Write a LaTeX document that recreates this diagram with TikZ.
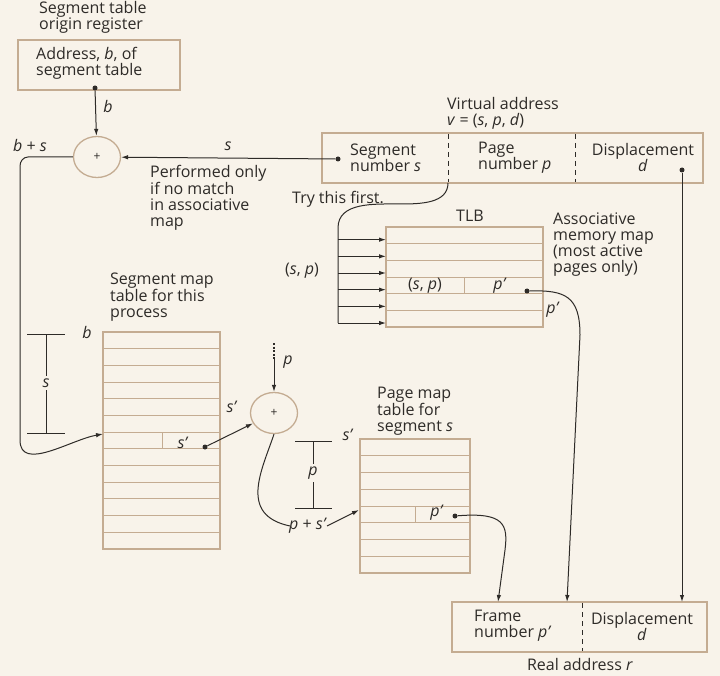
\documentclass[tikz,border=0pt]{standalone}
\usepackage{fontspec}
\setmainfont{Open Sans}
\usetikzlibrary{shapes.geometric,arrows.meta,positioning}
\definecolor{paper}{HTML}{F8F3EA}
\definecolor{tan}{HTML}{C4AC92}
\definecolor{ink}{HTML}{2E2B28}

\tikzset{
  lbl/.style={font=\fontsize{16}{16}\selectfont, text=ink, inner sep=0pt, align=left},
  box/.style={draw=tan, line width=1.3pt, rectangle, inner sep=0pt},
  adder/.style={draw=tan, ellipse, line width=1.3pt, minimum width=47pt, minimum height=41pt, inner sep=0pt, font=\fontsize{12}{12}\selectfont, text=ink},
  arr/.style={draw=ink, line width=1pt, -{Latex[length=7pt,width=4.5pt]}},
  wire/.style={draw=ink, line width=1pt},
  dot/.style={circle, fill=ink, inner sep=0pt, minimum size=5pt},
  row/.style={draw=tan, line width=1pt},
  divider/.style={draw=ink, line width=0.8pt, dash pattern=on 5pt off 4pt},
}

\begin{document}
\begin{tikzpicture}[x=1pt,y=-1pt]
        \fill[paper] (0,0) rectangle (720,676);
        \useasboundingbox (0,0) rectangle (720,676);
        % segment table origin register
        \node[lbl, anchor=west] (regtitle) at (39,17) {Segment table\\origin register};
        \node[box, minimum width=162pt, minimum height=50pt] (reg) at (99,65) {};
        \node[lbl, anchor=west] (regtext) at (36,63) {Address, \textit{b}, of\\segment table};
        \node[dot] (regdot) at (95,88) {};
        \node[adder] (add1) at (97,157) {+};
        \node[lbl] (blbl) at (108,107) {\textit{b}};
        \node[lbl] (bslbl) at (30,146) {\textit{b} + \textit{s}};
        \node[lbl] (slbl) at (228,146) {\textit{s}};
        \node[lbl, anchor=north west] (perf) at (150,165) {Performed only\\if no match\\in associative\\map};
        % virtual address
        \node[lbl, anchor=west] (valbl) at (447,113) {Virtual address\\\textit{v} = (\textit{s}, \textit{p}, \textit{d})};
        \node[box, minimum width=381pt, minimum height=50pt] (va) at (512.5,158) {};
        \draw[divider] (448,134) -- (448,182);
        \draw[divider] (575,134) -- (575,182);
        \coordinate (vadiv) at (448,183);
        \node[lbl, anchor=west] (vaseg) at (350,158) {Segment\\number \textit{s}};
        \node[lbl, anchor=west] (vapage) at (478,158) {Page\\number \textit{p}};
        \node[lbl, align=center] (vadisp) at (643,158) {Displacement\\\textit{d}};
        \node[dot] (segdot) at (338,159) {};
        \node[dot] (dispdot) at (682,170) {};
        % TLB
        \node[lbl, anchor=west] (try) at (292,199) {Try this first.};
        \node[lbl] (tlblbl) at (470,216) {TLB};
        \node[lbl, anchor=west] (assoc) at (553,245) {Associative\\memory map\\(most active\\pages only)};
        \node[box, minimum width=157pt, minimum height=100pt] (tlb) at (464.5,277) {};
        \foreach \i in {1,...,5}
            \draw[row] (386,{227+\i*16.67}) -- (543,{227+\i*16.67});
        \draw[row] (464,277.7) -- (464,294.3);
        \foreach \i in {1,...,6}
            \coordinate (tlb\i) at (386,{229+\i*16.67-6});
        \coordinate (busend) at (338,{229+6*16.67-6});
        \node[lbl] (splbl) at (302,271) {(\textit{s}, \textit{p})};
        \node[lbl] (tlbsp) at (425,286) {(\textit{s}, \textit{p})};
        \node[lbl] (tlbp) at (500,286) {\textit{p'}};
        \node[dot] (tlbdot) at (527,291) {};
        \node[lbl] (tlbplbl) at (553,310) {\textit{p'}};
        % segment map table
        \node[lbl, anchor=west] (segtitle) at (110,297) {Segment map\\table for this\\process};
        \node[box, minimum width=117pt, minimum height=217pt] (segmap) at (161.5,440.5) {};
        \foreach \i in {1,...,12}
            \draw[row] (103,{332+\i*16.69}) -- (220,{332+\i*16.69});
        \draw[row] (162,432.1) -- (162,448.8);
        \coordinate (seg7) at (103,434);
        \node[lbl] (seglbl) at (183,443) {\textit{s'}};
        \node[dot] (segrowdot) at (205,447) {};
        \node[lbl] (bseg) at (87,332) {\textit{b}};
        \draw[wire] (27,334) -- (65,334);
        \draw[wire] (27,433) -- (65,433);
        \draw[wire] (46,334) -- (46,433);
        \node[lbl, fill=paper, inner ysep=3pt] (sdim) at (46,383) {\textit{s}};
        % second adder
        \node[adder] (add2) at (274,413) {+};
        \coordinate (pdots) at (274,343);
        \coordinate (ptop) at (274,359);
        \node[lbl] (plbl) at (288,362) {\textit{p}};
        \node[lbl] (s2lbl) at (232,407) {\textit{s'}};
        \node[lbl] (pslbl) at (308,526) {\textit{p} + \textit{s'}};
        % page map table
        \node[lbl, anchor=west] (pagetitle) at (377,411) {Page map\\table for\\segment \textit{s}};
        \node[box, minimum width=110pt, minimum height=134pt] (pagemap) at (415,506) {};
        \foreach \i in {1,...,7}
            \draw[row] (360,{439+\i*16.75}) -- (470,{439+\i*16.75});
        \draw[row] (415,506) -- (415,522.75);
        \coordinate (page5) at (359,510);
        \node[lbl] (pagep) at (437,513) {\textit{p'}};
        \node[dot] (pagedot) at (455,516) {};
        \node[lbl] (s3lbl) at (348,435) {\textit{s'}};
        \draw[wire] (295,441) -- (332,441);
        \draw[wire] (295,508) -- (332,508);
        \draw[wire] (313,441) -- (313,508);
        \node[lbl, fill=paper, inner ysep=3pt] (pdim) at (313,473) {\textit{p}};
        % real address
        \node[box, minimum width=255pt, minimum height=50pt] (ra) at (579.5,627) {};
        \draw[divider] (582,603) -- (582,651);
        \node[lbl, anchor=west] (raframe) at (474,626) {Frame\\number \textit{p'}};
        \node[lbl, align=center] (radisp) at (642,626) {Displacement\\\textit{d}};
        \node[lbl] (ralbl) at (580,664) {Real address \textit{r}};
        \coordinate (ra1) at (498,602);
        \coordinate (ra2) at (567,602);
        \coordinate (ra3) at (682,602);
        % connectors
        \draw[arr] (regdot) -- (add1);
        \draw[arr] (segdot) -- (add1);
        \draw[arr] (add1.west) -- (28,157) to[out=180,in=90] (20,166) -- (20,440) to[out=-90,in=190] (seg7);
        \draw[wire] (vadiv) to[out=-90,in=0] (400,204) to[out=180,in=90] (338,228) -- (busend);
        \foreach \i in {1,...,6}
            \draw[arr] (338,{229+\i*16.67-6}) -- (tlb\i);
        \draw[arr] (tlbdot) .. controls (565,290) and (580,296) .. (580,335) -- (ra2);
        \draw[arr] (dispdot) -- (ra3);
        \draw[arr] (segrowdot) -- (add2);
        \draw[ink, line width=2.5pt, dash pattern=on 2pt off 1.5pt] (pdots) -- (ptop);
        \draw[arr] (ptop) -- (add2);
        \draw[wire] (add2.south) .. controls (262,470) and (238,515) .. (290,526);
        \draw[arr] (pslbl.east) -- (page5);
        \draw[arr] (pagedot) .. controls (505,512) and (508,525) .. (505,550) -- (ra1);
\end{tikzpicture}
\end{document}
